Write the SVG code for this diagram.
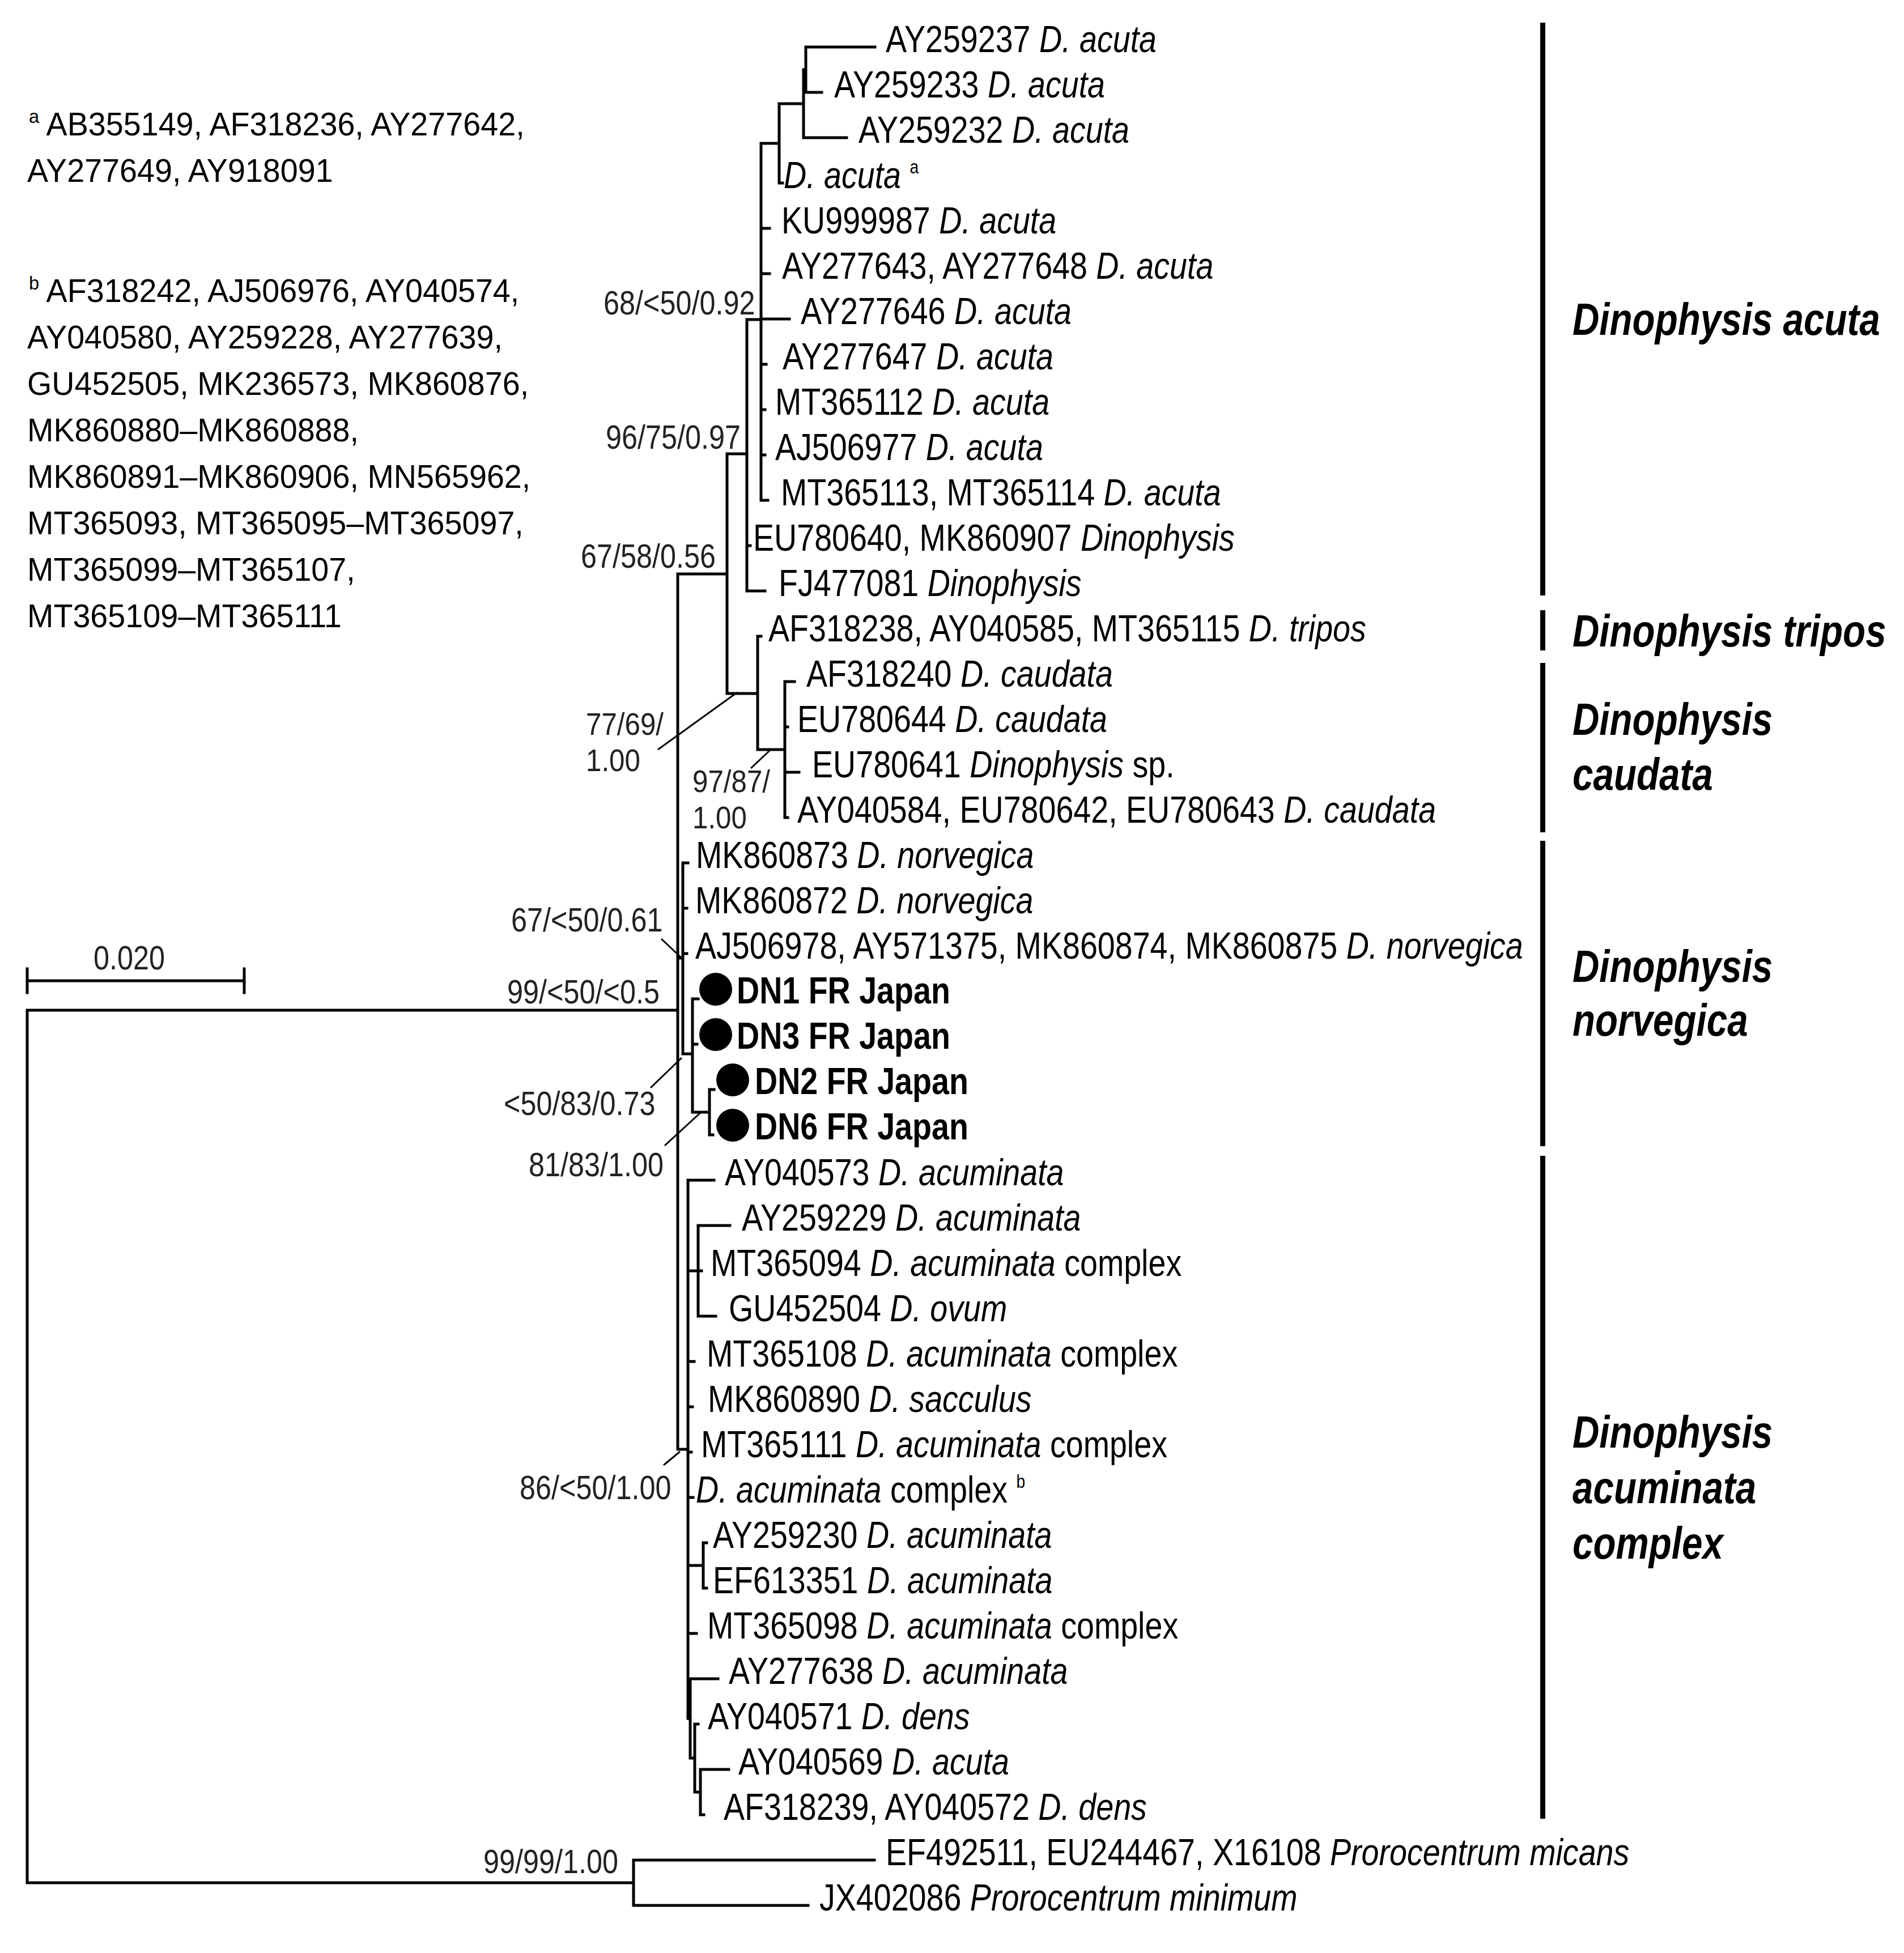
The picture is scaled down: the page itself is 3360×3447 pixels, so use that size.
<svg xmlns="http://www.w3.org/2000/svg" width="3360" height="3447" viewBox="0 0 3360 3447">
<style>
text{font-family:"Liberation Sans",Arial,Helvetica,sans-serif;fill:#000}
.lf{font-size:67px}
.dn{font-size:67px;font-weight:bold}
.sp{font-size:60px;fill:#222}
.sp2{font-size:56px;fill:#222}
.cl{font-size:79px;font-weight:bold;font-style:italic}
.lg{font-size:58px}
.i{font-style:italic}
.sup{font-size:34px}
.br{fill:none;stroke:#000;stroke-width:5;stroke-linecap:square}
.ld{fill:none;stroke:#000;stroke-width:3}
.bar{fill:#000}
</style>
<rect width="3360" height="3447" fill="#fff"/>

<g id="legend">
<text class="lg" transform="translate(51 239) scale(.96 1)"><tspan class="sup" dy="-22">a</tspan><tspan dy="22"> AB355149, AF318236, AY277642,</tspan></text>
<text class="lg" transform="translate(48 321) scale(.96 1)">AY277649, AY918091</text>
<text class="lg" transform="translate(51 533) scale(.96 1)"><tspan class="sup" dy="-22">b</tspan><tspan dy="22"> AF318242, AJ506976, AY040574,</tspan></text>
<text class="lg" transform="translate(48 615) scale(.96 1)">AY040580, AY259228, AY277639,</text>
<text class="lg" transform="translate(48 697) scale(.96 1)">GU452505, MK236573, MK860876,</text>
<text class="lg" transform="translate(48 779) scale(.96 1)">MK860880–MK860888,</text>
<text class="lg" transform="translate(48 861) scale(.96 1)">MK860891–MK860906, MN565962,</text>
<text class="lg" transform="translate(48 943) scale(.96 1)">MT365093, MT365095–MT365097,</text>
<text class="lg" transform="translate(48 1025) scale(.96 1)">MT365099–MT365107,</text>
<text class="lg" transform="translate(48 1107) scale(.96 1)">MT365109–MT365111</text>
</g>

<g id="scale-bar">
<path class="br" d="M48,1731 H431 M48,1710 V1752 M431,1710 V1752"/>
<text class="sp" transform="translate(165 1711) scale(.84 1)">0.020</text>
</g>

<g id="branches">
<path class="br" d="
M48,1783 V3323 M48,1783 H1196 M48,3323 H1118
M1118,3283 V3363 M1118,3283 H1543 M1118,3363 H1426
M1196,1013 V2558 M1196,1013 H1283 M1196,1691 H1205 M1196,2558 H1214
M1283,801 V1224 M1283,801 H1318 M1283,1224 H1337
M1318,564 V1043 M1318,564 H1343 M1318,963 H1324 M1318,1043 H1350
M1343,253 V883 M1343,253 H1375 M1343,403 H1358 M1343,483 H1358 M1343,563 H1393 M1343,643 H1352 M1343,723 H1350 M1343,803 H1350 M1343,883 H1355
M1375,183 V323 M1375,183 H1418 M1375,323 H1381
M1418,123 V243 M1418,123 H1422 M1418,243 H1494
M1422,83 V163 M1422,83 H1544 M1422,163 H1450
M1337,1123 V1323 M1337,1123 H1343 M1337,1323 H1385
M1385,1203 V1443 M1385,1203 H1402 M1385,1283 H1390 M1385,1363 H1410 M1385,1443 H1390
M1205,1523 V1860 M1205,1523 H1214 M1205,1603 H1212 M1205,1683 H1212 M1205,1860 H1222
M1222,1763 V1963 M1222,1763 H1232 M1222,1843 H1230 M1222,1963 H1252
M1252,1923 V2003 M1252,1923 H1260 M1252,2003 H1258
M1214,2083 V3033 M1214,2083 H1260 M1214,2243 H1232
M1232,2163 V2323 M1232,2163 H1288 M1232,2243 H1238 M1232,2323 H1263
M1214,2403 H1225 M1214,2483 H1222 M1214,2563 H1220 M1214,2643 H1223
M1214,2763 H1241 M1241,2723 V2803 M1241,2723 H1247 M1241,2803 H1247
M1214,2883 H1229 M1214,3033 H1218
M1218,2963 V3103 M1218,2963 H1267 M1218,3103 H1226
M1226,3043 V3163 M1226,3043 H1232 M1226,3163 H1236
M1236,3123 V3203 M1236,3123 H1286 M1236,3203 H1242"/>
<path class="ld" d="M1161,1323 L1301,1222 M1325,1356 L1360,1323 M1167,1657 L1202,1690 M1148,1920 L1203,1867 M1173,2022 L1237,1963 M1171,2586 L1200,2562"/>
</g>

<g id="support-values">
<text class="sp" transform="translate(1065 555) scale(.84 1)">68/&lt;50/0.92</text>
<text class="sp" transform="translate(1069 792) scale(.84 1)">96/75/0.97</text>
<text class="sp" transform="translate(1025 1002) scale(.84 1)">67/58/0.56</text>
<text class="sp2" transform="translate(1034 1297) scale(.88 1)"><tspan x="0" y="0">77/69/</tspan><tspan x="0" y="64">1.00</tspan></text>
<text class="sp2" transform="translate(1222 1398) scale(.88 1)"><tspan x="0" y="0">97/87/</tspan><tspan x="0" y="64">1.00</tspan></text>
<text class="sp" transform="translate(902 1644) scale(.84 1)">67/&lt;50/0.61</text>
<text class="sp" transform="translate(895 1771) scale(.84 1)">99/&lt;50/&lt;0.5</text>
<text class="sp" transform="translate(889 1968) scale(.84 1)">&lt;50/83/0.73</text>
<text class="sp" transform="translate(933 2076) scale(.84 1)">81/83/1.00</text>
<text class="sp" transform="translate(917 2646) scale(.84 1)">86/&lt;50/1.00</text>
<text class="sp" transform="translate(853 3306) scale(.84 1)">99/99/1.00</text>
</g>

<g id="leaves">
<g id="t1"><text class="lf" transform="translate(1563 92) scale(.83 1)">AY259237 <tspan class="i">D. acuta</tspan></text></g>
<g id="t2"><text class="lf" transform="translate(1472 172) scale(.83 1)">AY259233 <tspan class="i">D. acuta</tspan></text></g>
<g id="t3"><text class="lf" transform="translate(1515 252) scale(.83 1)">AY259232 <tspan class="i">D. acuta</tspan></text></g>
<g id="t4"><text class="lf" transform="translate(1383 332) scale(.83 1)"><tspan class="i">D. acuta</tspan> <tspan class="sup" dy="-26">a</tspan></text></g>
<g id="t5"><text class="lf" transform="translate(1379 412) scale(.83 1)">KU999987 <tspan class="i">D. acuta</tspan></text></g>
<g id="t6"><text class="lf" transform="translate(1380 492) scale(.83 1)">AY277643, AY277648 <tspan class="i">D. acuta</tspan></text></g>
<g id="t7"><text class="lf" transform="translate(1413 572) scale(.83 1)">AY277646 <tspan class="i">D. acuta</tspan></text></g>
<g id="t8"><text class="lf" transform="translate(1381 652) scale(.83 1)">AY277647 <tspan class="i">D. acuta</tspan></text></g>
<g id="t9"><text class="lf" transform="translate(1368 732) scale(.83 1)">MT365112 <tspan class="i">D. acuta</tspan></text></g>
<g id="t10"><text class="lf" transform="translate(1368 812) scale(.83 1)">AJ506977 <tspan class="i">D. acuta</tspan></text></g>
<g id="t11"><text class="lf" transform="translate(1378 892) scale(.83 1)">MT365113, MT365114 <tspan class="i">D. acuta</tspan></text></g>
<g id="t12"><text class="lf" transform="translate(1329 972) scale(.83 1)">EU780640, MK860907 <tspan class="i">Dinophysis</tspan></text></g>
<g id="t13"><text class="lf" transform="translate(1374 1052) scale(.83 1)">FJ477081 <tspan class="i">Dinophysis</tspan></text></g>
<g id="t14"><text class="lf" transform="translate(1356 1132) scale(.83 1)">AF318238, AY040585, MT365115 <tspan class="i">D. tripos</tspan></text></g>
<g id="t15"><text class="lf" transform="translate(1423 1212) scale(.83 1)">AF318240 <tspan class="i">D. caudata</tspan></text></g>
<g id="t16"><text class="lf" transform="translate(1407 1292) scale(.83 1)">EU780644 <tspan class="i">D. caudata</tspan></text></g>
<g id="t17"><text class="lf" transform="translate(1433 1372) scale(.83 1)">EU780641 <tspan class="i">Dinophysis</tspan> sp.</text></g>
<g id="t18"><text class="lf" transform="translate(1407 1452) scale(.83 1)">AY040584, EU780642, EU780643 <tspan class="i">D. caudata</tspan></text></g>
<g id="t19"><text class="lf" transform="translate(1228 1532) scale(.83 1)">MK860873 <tspan class="i">D. norvegica</tspan></text></g>
<g id="t20"><text class="lf" transform="translate(1227 1612) scale(.83 1)">MK860872 <tspan class="i">D. norvegica</tspan></text></g>
<g id="t21"><text class="lf" transform="translate(1227 1692) scale(.83 1)">AJ506978, AY571375, MK860874, MK860875 <tspan class="i">D. norvegica</tspan></text></g>
<g id="t22"><circle cx="1263" cy="1746" r="29"/><text class="dn" transform="translate(1300 1771) scale(.83 1)">DN1 FR Japan</text></g>
<g id="t23"><circle cx="1263" cy="1826" r="29"/><text class="dn" transform="translate(1300 1851) scale(.83 1)">DN3 FR Japan</text></g>
<g id="t24"><circle cx="1293" cy="1906" r="29"/><text class="dn" transform="translate(1332 1931) scale(.83 1)">DN2 FR Japan</text></g>
<g id="t25"><circle cx="1293" cy="1986" r="29"/><text class="dn" transform="translate(1332 2011) scale(.83 1)">DN6 FR Japan</text></g>
<g id="t26"><text class="lf" transform="translate(1279 2092) scale(.83 1)">AY040573 <tspan class="i">D. acuminata</tspan></text></g>
<g id="t27"><text class="lf" transform="translate(1309 2172) scale(.83 1)">AY259229 <tspan class="i">D. acuminata</tspan></text></g>
<g id="t28"><text class="lf" transform="translate(1254 2252) scale(.83 1)">MT365094 <tspan class="i">D. acuminata</tspan> complex</text></g>
<g id="t29"><text class="lf" transform="translate(1286 2332) scale(.83 1)">GU452504 <tspan class="i">D. ovum</tspan></text></g>
<g id="t30"><text class="lf" transform="translate(1247 2412) scale(.83 1)">MT365108 <tspan class="i">D. acuminata</tspan> complex</text></g>
<g id="t31"><text class="lf" transform="translate(1249 2492) scale(.83 1)">MK860890 <tspan class="i">D. sacculus</tspan></text></g>
<g id="t32"><text class="lf" transform="translate(1237 2572) scale(.83 1)">MT365111 <tspan class="i">D. acuminata</tspan> complex</text></g>
<g id="t33"><text class="lf" transform="translate(1228 2652) scale(.83 1)"><tspan class="i">D. acuminata</tspan> complex <tspan class="sup" dy="-26">b</tspan></text></g>
<g id="t34"><text class="lf" transform="translate(1258 2732) scale(.83 1)">AY259230 <tspan class="i">D. acuminata</tspan></text></g>
<g id="t35"><text class="lf" transform="translate(1258 2812) scale(.83 1)">EF613351 <tspan class="i">D. acuminata</tspan></text></g>
<g id="t36"><text class="lf" transform="translate(1248 2892) scale(.83 1)">MT365098 <tspan class="i">D. acuminata</tspan> complex</text></g>
<g id="t37"><text class="lf" transform="translate(1286 2972) scale(.83 1)">AY277638 <tspan class="i">D. acuminata</tspan></text></g>
<g id="t38"><text class="lf" transform="translate(1249 3052) scale(.83 1)">AY040571 <tspan class="i">D. dens</tspan></text></g>
<g id="t39"><text class="lf" transform="translate(1303 3132) scale(.83 1)">AY040569 <tspan class="i">D. acuta</tspan></text></g>
<g id="t40"><text class="lf" transform="translate(1277 3212) scale(.83 1)">AF318239, AY040572 <tspan class="i">D. dens</tspan></text></g>
<g id="t41"><text class="lf" transform="translate(1563 3292) scale(.83 1)">EF492511, EU244467, X16108 <tspan class="i">Prorocentrum micans</tspan></text></g>
<g id="t42"><text class="lf" transform="translate(1446 3372) scale(.83 1)">JX402086 <tspan class="i">Prorocentrum minimum</tspan></text></g>
</g>

<g id="clades">
<g id="clade-acuta"><rect class="bar" x="2718" y="40" width="9" height="1011"/><text class="cl" transform="translate(2775 591) scale(.83 1)">Dinophysis acuta</text></g>
<g id="clade-tripos"><rect class="bar" x="2718" y="1077" width="9" height="71"/><text class="cl" transform="translate(2775 1141) scale(.83 1)">Dinophysis tripos</text></g>
<g id="clade-caudata"><rect class="bar" x="2718" y="1170" width="9" height="299"/><text class="cl" transform="translate(2775 1297) scale(.83 1)">Dinophysis</text><text class="cl" transform="translate(2775 1394) scale(.83 1)">caudata</text></g>
<g id="clade-norvegica"><rect class="bar" x="2718" y="1484" width="9" height="539"/><text class="cl" transform="translate(2775 1733) scale(.83 1)">Dinophysis</text><text class="cl" transform="translate(2775 1828) scale(.83 1)">norvegica</text></g>
<g id="clade-acuminata"><rect class="bar" x="2718" y="2040" width="9" height="1170"/><text class="cl" transform="translate(2775 2555) scale(.83 1)">Dinophysis</text><text class="cl" transform="translate(2775 2653) scale(.83 1)">acuminata</text><text class="cl" transform="translate(2775 2751) scale(.83 1)">complex</text></g>
</g>
</svg>
